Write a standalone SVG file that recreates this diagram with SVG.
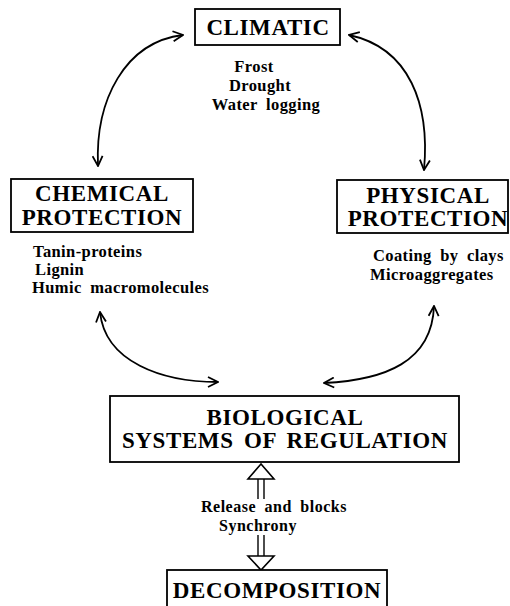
<svg xmlns="http://www.w3.org/2000/svg" width="510" height="606" viewBox="0 0 510 606">
<defs>
<marker id="v" viewBox="0 0 12 12" refX="11" refY="6" markerWidth="12" markerHeight="12" markerUnits="userSpaceOnUse" orient="auto-start-reverse">
<path d="M1,1 L11,6 L1,11" fill="none" stroke="#000" stroke-width="1.8"/>
</marker>
</defs>
<style>
.box{fill:#fff;stroke:#000;stroke-width:1.8}
.t{font-family:"Liberation Serif","Times New Roman",serif;font-weight:bold;fill:#000;text-anchor:middle}
.big{font-size:23px;letter-spacing:0.6px;word-spacing:4px}
.sm{font-size:16.5px;letter-spacing:0.4px;word-spacing:4px}
.rl{font-size:16px;letter-spacing:0.5px;word-spacing:4px}
.l{text-anchor:start}
.c{fill:none;stroke:#000;stroke-width:1.8;marker-start:url(#v);marker-end:url(#v)}
.h{fill:#fff;stroke:#000;stroke-width:1.6}
.s{stroke:#000;stroke-width:1.4}
</style>
<g id="connectors">
<path class="c" d="M183,35 C125,42 95,100 98,166"/>
<path class="c" d="M349,35 C410,48 430,105 424,170"/>
<path class="c" d="M100,312 C105,362 162,382 218,382"/>
<path class="c" d="M434,306 C432,362 385,380 324,383"/>
<g id="arrow-up">
<line class="s" x1="258" y1="479" x2="258" y2="499"/>
<line class="s" x1="264" y1="479" x2="264" y2="499"/>
<polygon class="h" points="261,464 248,479 274,479"/>
</g>
<g id="arrow-down">
<line class="s" x1="258" y1="535" x2="258" y2="556"/>
<line class="s" x1="264" y1="535" x2="264" y2="556"/>
<polygon class="h" points="248,556 274,556 261,570"/>
</g>
</g>
<g id="climatic">
<rect class="box" x="195" y="9" width="145" height="36"/>
<text class="t big" x="268" y="35">CLIMATIC</text>
<text class="t sm" x="254" y="72">Frost</text>
<text class="t sm" x="260" y="91">Drought</text>
<text class="t sm" x="266" y="110">Water logging</text>
</g>
<g id="chemical">
<rect class="box" x="11" y="179" width="182" height="53"/>
<text class="t big" x="102" y="201">CHEMICAL</text>
<text class="t big" x="102" y="225">PROTECTION</text>
<text class="t sm l" x="33" y="257">Tanin-proteins</text>
<text class="t sm l" x="35" y="275">Lignin</text>
<text class="t sm l" x="32" y="293">Humic macromolecules</text>
</g>
<g id="physical">
<rect class="box" x="337" y="180" width="171" height="53"/>
<text class="t big" x="428" y="203">PHYSICAL</text>
<text class="t big" x="428" y="226">PROTECTION</text>
<text class="t sm l" x="373" y="261">Coating by clays</text>
<text class="t sm l" x="370" y="280">Microaggregates</text>
</g>
<g id="biological">
<rect class="box" x="110" y="396" width="349" height="66"/>
<text class="t big" x="285" y="425">BIOLOGICAL</text>
<text class="t big" x="285" y="448">SYSTEMS OF REGULATION</text>
</g>
<g id="regulation-label">
<text class="t rl l" x="201" y="512">Release and blocks</text>
<text class="t rl l" x="219" y="530.5">Synchrony</text>
</g>
<g id="decomposition">
<rect class="box" x="167" y="570" width="220" height="46"/>
<text class="t big" x="277" y="598">DECOMPOSITION</text>
</g>
</svg>
